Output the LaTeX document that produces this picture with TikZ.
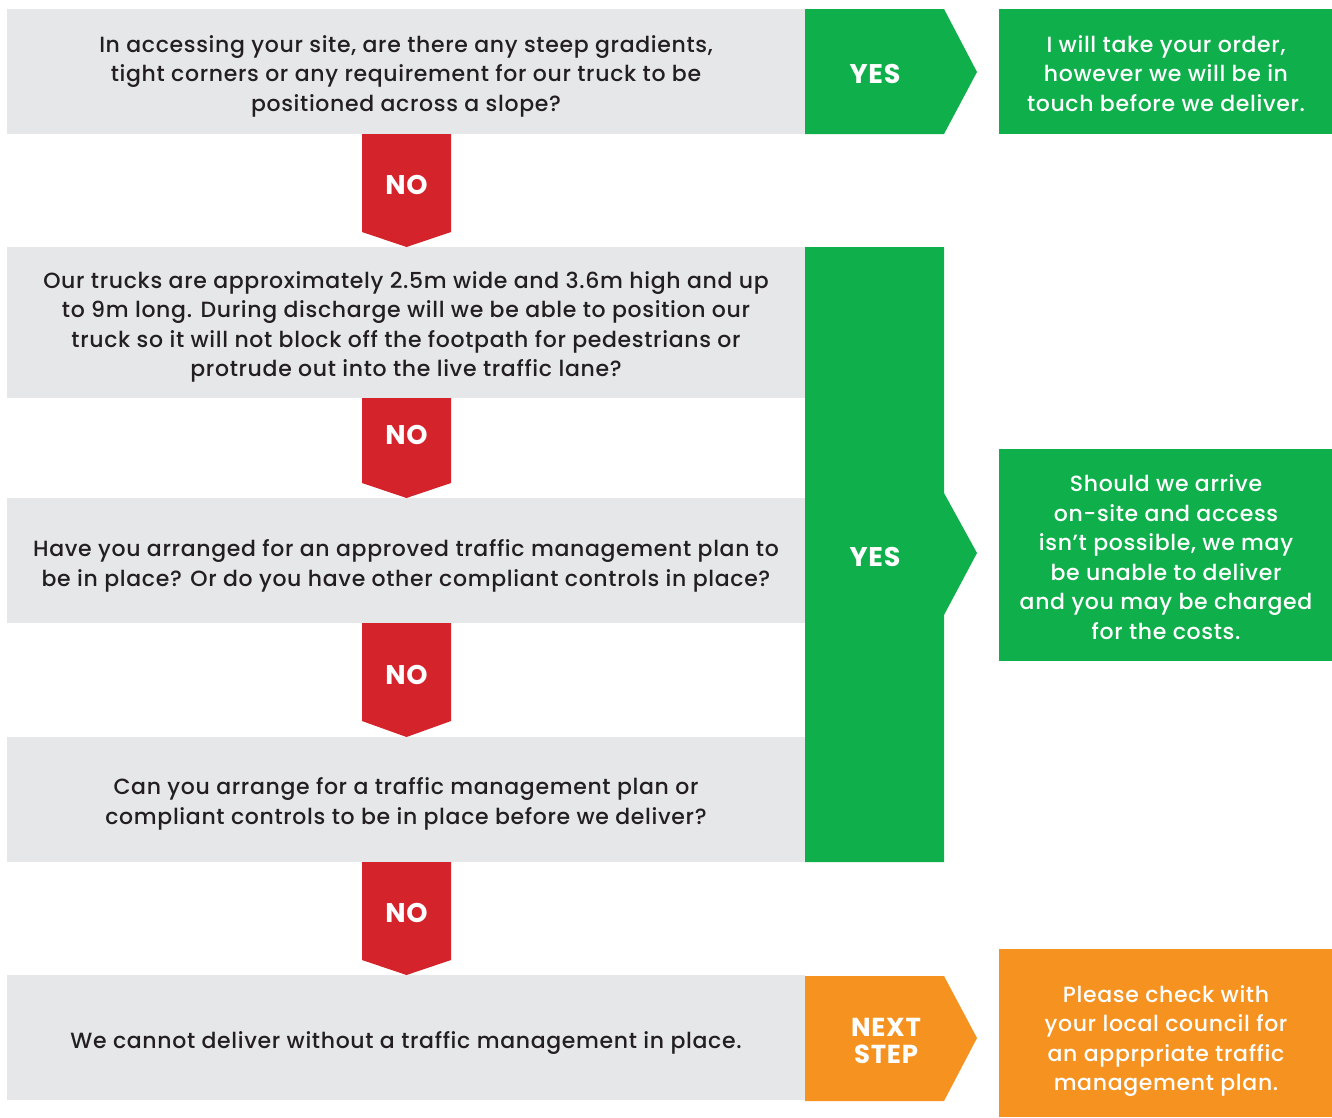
\documentclass[tikz,border=0pt]{standalone}
\usepackage{fontspec}
\setmainfont{Poppins}[UprightFont={* Medium}, BoldFont={* Bold}, LetterSpace=3]
\definecolor{qgray}{HTML}{E6E7E9}
\definecolor{ygreen}{HTML}{0FB04B}
\definecolor{nred}{HTML}{D4232B}
\definecolor{sorange}{HTML}{F69320}
\definecolor{txt}{HTML}{231F20}
\tikzset{
  qtext/.style={text=txt, align=center, font=\fontsize{22}{29.5}\selectfont, inner sep=0pt},
  atext/.style={text=white, align=center, font=\fontsize{22}{29.5}\selectfont, inner sep=0pt},
  lab/.style={text=white, align=center, font=\bfseries\fontsize{27}{24}\selectfont, inner sep=0pt},
}
\begin{document}
\begin{tikzpicture}[x=1pt,y=-1pt]
\useasboundingbox (0,0) rectangle (1332,1117);
% gray question boxes
\fill[qgray] (7,9) rectangle (805,134);
\fill[qgray] (7,247) rectangle (805,398);
\fill[qgray] (7,498) rectangle (805,623);
\fill[qgray] (7,737) rectangle (805,862);
\fill[qgray] (7,975) rectangle (805,1100);
% red NO arrows
\fill[nred] (362,134) -- (451,134) -- (451,232) -- (406.5,247) -- (362,232) -- cycle;
\fill[nred] (362,398) -- (451,398) -- (451,483) -- (406.5,498) -- (362,483) -- cycle;
\fill[nred] (362,623) -- (451,623) -- (451,721) -- (406.5,737) -- (362,721) -- cycle;
\fill[nred] (362,862) -- (451,862) -- (451,960) -- (406.5,975) -- (362,960) -- cycle;
% green YES arrows
\fill[ygreen] (805,9) -- (944,9) -- (977,72) -- (944,134) -- (805,134) -- cycle;
\fill[ygreen] (805,247) -- (944,247) -- (944,493) -- (977,553) -- (944,615) -- (944,862) -- (805,862) -- cycle;
% orange next step
\fill[sorange] (805,976) -- (944,976) -- (977,1038) -- (944,1101) -- (805,1101) -- cycle;
% answer boxes
\fill[ygreen] (999,9) rectangle (1332,134);
\fill[ygreen] (999,449) rectangle (1332,661);
\fill[sorange] (999,949) rectangle (1332,1117);
% texts
\node[qtext] (q1) at (406,76) {In accessing your site, are there any steep gradients,\\tight corners or any requirement for our truck to be\\positioned across a slope?};
\node[qtext] (q2) at (406,327) {Our trucks are approximately 2.5m wide and 3.6m high and up\\to 9m long. During discharge will we be able to position our\\truck so it will not block off the footpath for pedestrians or\\protrude out into the live traffic lane?};
\node[qtext] (q3) at (406,566) {Have you arranged for an approved traffic management plan to\\be in place? Or do you have other compliant controls in place?};
\node[qtext] (q4) at (406,804) {Can you arrange for a traffic management plan or\\compliant controls to be in place before we deliver?};
\node[qtext] (q5) at (406,1043) {We cannot deliver without a traffic management in place.};
\node[lab] (n1) at (406.5,185) {NO};
\node[lab] (n2) at (406.5,435) {NO};
\node[lab] (n3) at (406.5,675) {NO};
\node[lab] (n4) at (406.5,913) {NO};
\node[lab] (y1) at (875,74) {YES};
\node[lab] (y2) at (875,557) {YES};
\node[lab, font=\bfseries\fontsize{26}{27}\selectfont] (ns) at (886,1041) {NEXT\\STEP};
\node[atext] (a1) at (1166,73.5) {I will take your order,\\however we will be in\\touch before we deliver.};
\node[atext] (a2) at (1166,557) {Should we arrive\\on-site and access\\isn’t possible, we may\\be unable to deliver\\and you may be charged\\for the costs.};
\node[atext] (a3) at (1166,1041) {Please check with\\your local council for\\an apprpriate traffic\\management plan.};
\end{tikzpicture}
\end{document}
